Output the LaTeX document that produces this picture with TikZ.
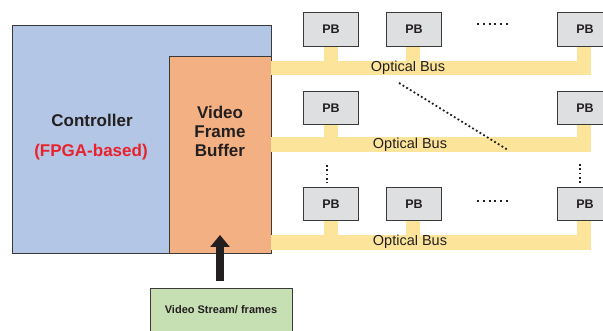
\documentclass[tikz,border=0pt]{standalone}
\usepackage{fontspec}
\setmainfont{Liberation Sans}
\usetikzlibrary{arrows.meta}
\definecolor{ctrlblue}{HTML}{B4C6E6}
\definecolor{bufor}{HTML}{F3B183}
\definecolor{busyel}{HTML}{FCE59A}
\definecolor{pbgray}{HTML}{DEDFE1}
\definecolor{vsgreen}{HTML}{C6E0B4}
\definecolor{txtdark}{HTML}{231F20}
\definecolor{fpgared}{HTML}{E8212B}
\definecolor{edge}{HTML}{3A3A3A}
\tikzset{
  blk/.style={draw=edge, line width=0.9pt, inner sep=0pt, anchor=north west},
  pbbox/.style={blk, fill=pbgray, minimum width=55pt, minimum height=34pt,
                font=\bfseries\fontsize{12.5}{14}\selectfont, text=txtdark},
  bus/.style={fill=busyel, draw=none, inner sep=0pt, anchor=north west},
  stub/.style={bus, minimum width=14pt},
  bustxt/.style={font=\fontsize{14.5}{16}\selectfont, text=txtdark, inner sep=0pt},
  bigtxt/.style={font=\bfseries\fontsize{17}{19}\selectfont, text=txtdark, inner sep=0pt},
  dotsline/.style={line width=2pt, txtdark, dash pattern=on 2pt off 3.8pt},
  dotsv/.style={line width=1.8pt, txtdark, dash pattern=on 1.8pt off 2.5pt},
  bigarrow/.style={line width=8pt, txtdark, -{Triangle[width=19pt,length=12pt]}}
}
\begin{document}
\begin{tikzpicture}[x=1pt,y=-1pt]
\useasboundingbox (0,0) rectangle (603,331);
\clip (0,0) rectangle (603,331);
% controller and buffer
\node[blk, fill=ctrlblue, minimum width=259pt, minimum height=228pt] (ctrl) at (12,25) {};
\node[bigtxt] (ctrltxt) at (92,120) {Controller};
\node[bigtxt, text=fpgared] (fpga) at (91,152) {(FPGA-based)};
\node[blk, fill=bufor, minimum width=102pt, minimum height=197pt] (buf) at (169,56) {};
\node[bigtxt, align=center] (buftxt) at (220,131) {Video\\Frame\\Buffer};
% buses
\node[bus, minimum width=320pt, minimum height=14pt] (bus1) at (271,61) {};
\node[bus, minimum width=320pt, minimum height=15pt] (bus2) at (271,137) {};
\node[bus, minimum width=320pt, minimum height=15pt] (bus3) at (271,235) {};
\node[bustxt] (b1t) at (408,68) {Optical Bus};
\node[bustxt] (b2t) at (410,145) {Optical Bus};
\node[bustxt] (b3t) at (410,242) {Optical Bus};
% stubs
\node[stub, minimum height=15pt] (s11) at (324,46) {};
\node[stub, minimum height=15pt] (s12) at (406,46) {};
\node[stub, minimum height=15pt] (s13) at (577,46) {};
\node[stub, minimum height=13pt] (s21) at (324,124) {};
\node[stub, minimum height=13pt] (s23) at (577,124) {};
\node[stub, minimum height=15pt] (s31) at (324,220) {};
\node[stub, minimum height=15pt] (s32) at (406,220) {};
\node[stub, minimum height=15pt] (s33) at (577,220) {};
% processing boards
\node[pbbox] (pb11) at (303,12) {PB};
\node[pbbox] (pb12) at (386,12) {PB};
\node[pbbox] (pb13) at (557,12) {PB};
\node[pbbox, minimum height=33pt] (pb21) at (303,91) {PB};
\node[pbbox, minimum height=33pt] (pb23) at (557,91) {PB};
\node[pbbox, minimum height=33pt] (pb31) at (303,187) {PB};
\node[pbbox, minimum height=33pt] (pb32) at (386,187) {PB};
\node[pbbox, minimum height=33pt] (pb33) at (557,187) {PB};
% dots
\coordinate (d1a) at (477,24); \coordinate (d1b) at (508,24);
\draw[dotsline] (d1a) -- (d1b);
\coordinate (d3a) at (477,201); \coordinate (d3b) at (508,201);
\draw[dotsline] (d3a) -- (d3b);
\coordinate (v1a) at (327,165); \coordinate (v1b) at (327,183);
\draw[dotsv] (v1a) -- (v1b);
\coordinate (v2a) at (580,164); \coordinate (v2b) at (580,183);
\draw[dotsv] (v2a) -- (v2b);
\coordinate (ga) at (399,83); \coordinate (gb) at (508,150);
\draw[dotsv] (ga) -- (gb);
% video stream
\node[blk, fill=vsgreen, minimum width=142pt, minimum height=60pt] (vs) at (150,288) {};
\node[font=\bfseries\fontsize{11}{13}\selectfont, text=txtdark, inner sep=0pt] (vstxt) at (221,310) {Video Stream/ frames};
\coordinate (atail) at (220,281);
\coordinate (ahead) at (220,235);
\draw[bigarrow] (atail) -- (ahead);
\end{tikzpicture}
\end{document}
